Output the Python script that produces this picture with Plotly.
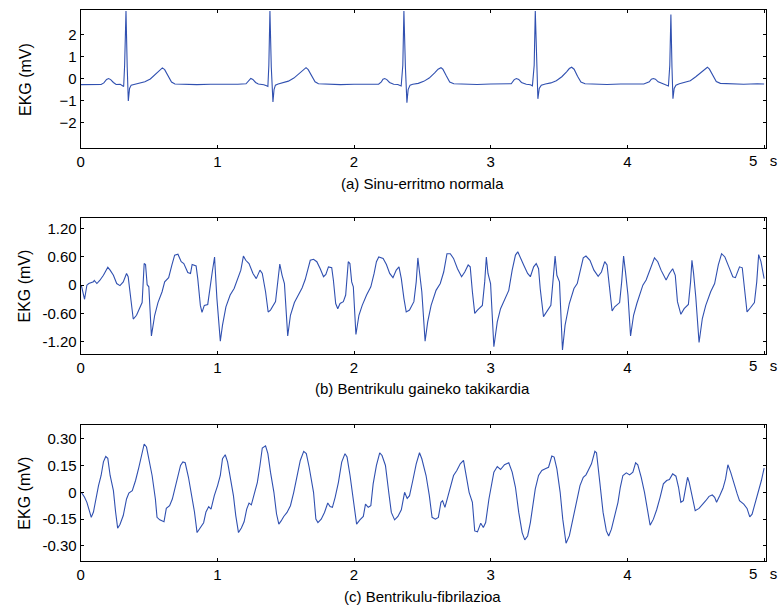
import plotly.graph_objects as go

W, H = 778, 605

# ---------------- (a) normal sinus rhythm ----------------
t_a = [0.00, 0.05, 0.10, 0.15, 0.17, 0.19, 0.205, 0.22, 0.24, 0.26, 0.29, 0.305, 0.315, 0.322, 0.332, 0.341, 0.349, 0.358, 0.37, 0.39,
       0.43, 0.47, 0.51, 0.545, 0.575, 0.598, 0.615, 0.64, 0.665, 0.69, 0.75, 0.85, 0.95, 1.05, 1.15,
       1.21, 1.23, 1.245, 1.26, 1.28, 1.30, 1.34, 1.36, 1.37, 1.377, 1.385, 1.395, 1.407, 1.415, 1.425, 1.445,
       1.48, 1.52, 1.56, 1.60, 1.63, 1.649, 1.665, 1.69, 1.715, 1.74, 1.80, 1.90, 2.00, 2.10, 2.18,
       2.20, 2.212, 2.225, 2.24, 2.26, 2.29, 2.32, 2.345, 2.357, 2.365, 2.376, 2.387, 2.396, 2.41, 2.43,
       2.47, 2.51, 2.55, 2.59, 2.615, 2.636, 2.65, 2.675, 2.70, 2.73, 2.80, 2.90, 3.00, 3.10,
       3.15, 3.172, 3.188, 3.205, 3.225, 3.26, 3.29, 3.305, 3.318, 3.326, 3.336, 3.345, 3.355, 3.37, 3.40,
       3.44, 3.48, 3.52, 3.555, 3.575, 3.592, 3.61, 3.635, 3.66, 3.69, 3.75, 3.85, 3.95, 4.05, 4.12,
       4.16, 4.175, 4.19, 4.205, 4.225, 4.26, 4.29, 4.30, 4.31, 4.318, 4.326, 4.333, 4.342, 4.355, 4.38,
       4.42, 4.46, 4.50, 4.545, 4.57, 4.585, 4.60, 4.625, 4.65, 4.68, 4.75, 4.85, 4.95, 5.00]
v_a = [-0.28, -0.27, -0.29, -0.27, -0.20, -0.04, 0.00, -0.05, -0.18, -0.27, -0.26, -0.31, -0.36, 0.6, 3.05, 0.5, -1.02, -0.45, -0.30, -0.27,
       -0.22, -0.15, -0.02, 0.18, 0.38, 0.48, 0.40, 0.10, -0.16, -0.25, -0.26, -0.28, -0.26, -0.27, -0.26,
       -0.24, -0.08, 0.00, -0.04, -0.18, -0.25, -0.28, -0.33, -0.36, 0.6, 3.05, 0.5, -1.06, -0.50, -0.30, -0.25,
       -0.20, -0.12, 0.02, 0.25, 0.42, 0.49, 0.40, 0.10, -0.15, -0.24, -0.26, -0.28, -0.26, -0.27, -0.26,
       -0.15, -0.03, 0.00, -0.05, -0.18, -0.26, -0.27, -0.34, 0.6, 3.05, 0.5, -1.10, -0.50, -0.30, -0.26,
       -0.22, -0.13, 0.02, 0.25, 0.42, 0.49, 0.42, 0.12, -0.16, -0.24, -0.26, -0.27, -0.25, -0.26,
       -0.24, -0.05, 0.00, -0.04, -0.18, -0.26, -0.28, -0.33, 0.6, 3.05, 0.5, -0.92, -0.45, -0.30, -0.25,
       -0.20, -0.10, 0.08, 0.30, 0.45, 0.51, 0.42, 0.10, -0.16, -0.24, -0.26, -0.27, -0.25, -0.26, -0.25,
       -0.15, -0.03, 0.00, -0.03, -0.15, -0.24, -0.30, -0.34, 0.6, 2.90, 0.5, -0.92, -0.45, -0.30, -0.24,
       -0.18, -0.10, 0.08, 0.30, 0.45, 0.51, 0.42, 0.12, -0.14, -0.22, -0.25, -0.26, -0.24, -0.25]

# ---------------- (b) supraventricular tachycardia ----------------
t_b = [0.005, 0.029, 0.046, 0.06, 0.094, 0.10, 0.119, 0.14, 0.167, 0.199, 0.216, 0.24, 0.264, 0.288, 0.312, 0.336, 0.348,
       0.368, 0.385, 0.409, 0.433, 0.45, 0.465, 0.475, 0.487, 0.499, 0.518, 0.542, 0.566, 0.596, 0.615, 0.644, 0.668,
       0.688, 0.712, 0.736, 0.755, 0.784, 0.804, 0.816, 0.845, 0.857, 0.876, 0.888, 0.905, 0.93, 0.963, 0.98, 0.983,
       0.997, 1.022, 1.038, 1.063, 1.094, 1.123, 1.147, 1.172, 1.191, 1.208, 1.232, 1.261, 1.285, 1.312, 1.329, 1.353,
       1.372, 1.389, 1.426, 1.445, 1.457, 1.474, 1.491, 1.515, 1.535, 1.564, 1.595, 1.62, 1.643, 1.68, 1.704, 1.728,
       1.753, 1.777, 1.794, 1.813, 1.837, 1.849, 1.866, 1.881, 1.898, 1.922, 1.939, 1.958, 1.97, 1.983, 1.995, 2.014,
       2.036, 2.06, 2.092, 2.123, 2.147, 2.164, 2.181, 2.213, 2.237, 2.261, 2.285, 2.309, 2.329, 2.346, 2.365, 2.382,
       2.406, 2.438, 2.455, 2.467, 2.479, 2.496, 2.52, 2.539, 2.564, 2.60, 2.631, 2.656, 2.68, 2.704, 2.728, 2.757,
       2.787, 2.81, 2.835, 2.85, 2.866, 2.883, 2.903, 2.939, 2.956, 2.968, 2.98, 2.999, 3.023, 3.048, 3.072, 3.108,
       3.132, 3.157, 3.181, 3.198, 3.217, 3.241, 3.27, 3.29, 3.314, 3.333, 3.35, 3.362, 3.386, 3.406, 3.44, 3.455,
       3.471, 3.484, 3.503, 3.525, 3.544, 3.575, 3.609, 3.633, 3.658, 3.677, 3.697, 3.726, 3.755, 3.786, 3.81, 3.834,
       3.851, 3.871, 3.888, 3.907, 3.943, 3.958, 3.972, 3.987, 4.004, 4.023, 4.045, 4.069, 4.113, 4.137, 4.166, 4.198,
       4.222, 4.246, 4.283, 4.307, 4.331, 4.35, 4.366, 4.391, 4.415, 4.446, 4.462, 4.472, 4.484, 4.50, 4.524, 4.548,
       4.573, 4.609, 4.638, 4.665, 4.689, 4.713, 4.742, 4.771, 4.79, 4.82, 4.84, 4.858, 4.875, 4.90, 4.929, 4.946,
       4.96, 4.977, 4.991, 5.0]
v_b = [0.0, -0.30, 0.0, 0.035, 0.07, 0.10, 0.035, 0.10, 0.21, 0.38, 0.32, 0.21, 0.035, -0.01, 0.07, 0.25, 0.18,
       -0.35, -0.72, -0.64, -0.50, -0.37, 0.46, 0.44, 0.01, -0.035, -1.08, -0.64, -0.37, -0.14, 0.07, 0.16, 0.43,
       0.64, 0.66, 0.50, 0.46, 0.27, 0.25, 0.44, 0.41, 0.14, -0.43, -0.58, -0.43, -0.41, 0.28, 0.60, 0.43,
       -0.28, -1.19, -0.85, -0.46, -0.21, -0.07, 0.11, 0.32, 0.62, 0.53, 0.46, 0.25, 0.14, 0.32, 0.25, -0.14,
       -0.57, -0.53, -0.35, 0.07, 0.45, 0.21, 0.035, -1.08, -0.64, -0.37, -0.18, -0.06, 0.12, 0.53, 0.55, 0.50,
       0.35, 0.18, 0.23, 0.39, 0.37, 0.11, -0.39, -0.50, -0.39, -0.35, -0.21, 0.50, 0.46, 0.07, -0.035, -1.05,
       -0.64, -0.43, -0.21, -0.035, 0.25, 0.50, 0.60, 0.57, 0.44, 0.25, 0.16, 0.32, 0.39, 0.14, -0.28, -0.57,
       -0.53, -0.35, 0.07, 0.58, 0.28, -0.14, -1.19, -0.78, -0.43, -0.11, 0.035, 0.28, 0.67, 0.67, 0.57, 0.35,
       0.18, 0.28, 0.43, 0.39, -0.14, -0.60, -0.53, -0.43, 0.07, 0.60, 0.25, 0.035, -1.31, -0.78, -0.50, -0.25,
       -0.11, 0.32, 0.64, 0.71, 0.60, 0.43, 0.25, 0.18, 0.39, 0.46, 0.35, -0.07, -0.67, -0.57, -0.43, 0.07,
       0.62, 0.21, 0.07, -1.38, -0.85, -0.39, -0.07, 0.035, 0.32, 0.58, 0.62, 0.53, 0.32, 0.19, 0.28, 0.50,
       0.43, -0.14, -0.55, -0.46, -0.37, 0.07, 0.62, 0.25, -0.21, -1.08, -0.64, -0.39, 0.0, 0.11, 0.35, 0.58,
       0.50, 0.32, 0.11, 0.25, 0.35, 0.21, -0.35, -0.62, -0.50, -0.41, 0.07, 0.53, 0.25, -0.25, -1.22, -0.71,
       -0.43, -0.14, 0.035, 0.43, 0.67, 0.60, 0.39, 0.18, 0.16, 0.39, 0.37, -0.14, -0.57, -0.48, -0.37, 0.07,
       0.65, 0.50, 0.28, 0.14]

# ---------------- (c) ventricular fibrillation ----------------
t_c = [0.005, 0.029, 0.046, 0.063, 0.078, 0.094, 0.111, 0.131, 0.15, 0.167, 0.184, 0.199, 0.216, 0.24, 0.256, 0.271,
       0.288, 0.312, 0.336, 0.353, 0.378, 0.402, 0.426, 0.446, 0.465, 0.482, 0.499, 0.523, 0.547, 0.559, 0.579, 0.61,
       0.627, 0.651, 0.671, 0.692, 0.712, 0.731, 0.748, 0.765, 0.789, 0.813, 0.833, 0.852, 0.876, 0.90, 0.917, 0.937,
       0.954, 0.978, 1.002, 1.022, 1.038, 1.058, 1.075, 1.094, 1.118, 1.135, 1.155, 1.176, 1.196, 1.215, 1.232, 1.249,
       1.269, 1.293, 1.312, 1.329, 1.353, 1.37, 1.389, 1.414, 1.433, 1.45, 1.467, 1.486, 1.51, 1.535, 1.559, 1.583,
       1.607, 1.632, 1.651, 1.672, 1.692, 1.704, 1.721, 1.736, 1.76, 1.784, 1.808, 1.825, 1.842, 1.862, 1.886, 1.91,
       1.934, 1.949, 1.971, 1.995, 2.019, 2.043, 2.068, 2.084, 2.104, 2.123, 2.14, 2.164, 2.188, 2.205, 2.23, 2.254,
       2.273, 2.297, 2.321, 2.346, 2.37, 2.389, 2.406, 2.43, 2.455, 2.479, 2.496, 2.527, 2.551, 2.571, 2.595, 2.617,
       2.636, 2.648, 2.665, 2.685, 2.709, 2.728, 2.752, 2.777, 2.801, 2.818, 2.842, 2.866, 2.883, 2.903, 2.927, 2.946,
       2.963, 2.987, 3.007, 3.023, 3.048, 3.072, 3.101, 3.132, 3.157, 3.181, 3.205, 3.23, 3.249, 3.27, 3.29, 3.309,
       3.326, 3.35, 3.374, 3.399, 3.423, 3.447, 3.464, 3.484, 3.508, 3.527, 3.551, 3.575, 3.60, 3.629, 3.653, 3.677,
       3.697, 3.713, 3.737, 3.762, 3.774, 3.798, 3.822, 3.846, 3.863, 3.883, 3.907, 3.931, 3.948, 3.967, 3.992, 4.016,
       4.04, 4.06, 4.076, 4.101, 4.125, 4.142, 4.166, 4.19, 4.214, 4.239, 4.263, 4.287, 4.307, 4.331, 4.355, 4.374,
       4.391, 4.409, 4.428, 4.44, 4.452, 4.472, 4.496, 4.524, 4.548, 4.573, 4.597, 4.621, 4.638, 4.652, 4.675, 4.699,
       4.718, 4.735, 4.755, 4.779, 4.803, 4.82, 4.851, 4.875, 4.895, 4.912, 4.936, 4.96, 4.98, 5.0]
v_c = [0.0, -0.028, -0.056, -0.11, -0.14, -0.11, -0.0375, 0.0375, 0.094, 0.17, 0.20, 0.19, 0.094, 0.009, -0.11, -0.20,
       -0.18, -0.13, -0.0375, -0.004, 0.009, 0.066, 0.14, 0.216, 0.27, 0.253, 0.1875, 0.094, -0.0375, -0.14, -0.154, -0.165,
       -0.09, -0.075, -0.0375, 0.028, 0.084, 0.15, 0.17, 0.165, 0.084, -0.019, -0.11, -0.225, -0.20, -0.17, -0.11, -0.08,
       -0.094, -0.019, 0.0375, 0.094, 0.1875, 0.21, 0.17, 0.094, -0.019, -0.13, -0.225, -0.20, -0.165, -0.094, -0.06, -0.07,
       -0.019, 0.056, 0.15, 0.2475, 0.26, 0.216, 0.1125, 0.0, -0.12, -0.178, -0.16, -0.135, -0.1125, -0.075, 0.0, 0.094,
       0.178, 0.229, 0.216, 0.14, 0.056, 0.0, -0.15, -0.169, -0.15, -0.1125, -0.06, -0.079, -0.084, -0.028, 0.056, 0.169,
       0.216, 0.197, 0.094, -0.056, -0.178, -0.154, -0.135, -0.066, -0.084, -0.075, 0.047, 0.15, 0.221, 0.206, 0.15, 0.0,
       -0.1125, -0.154, -0.135, -0.0975, 0.0, -0.034, -0.019, 0.066, 0.159, 0.221, 0.1875, 0.094, -0.019, -0.14, -0.15, -0.14,
       -0.056, -0.047, -0.084, -0.028, 0.0375, 0.094, 0.122, 0.159, 0.178, 0.1125, 0.0, -0.056, -0.216, -0.221, -0.1725, -0.197,
       -0.169, -0.0375, 0.047, 0.1125, 0.144, 0.1275, 0.154, 0.165, 0.1125, 0.028, -0.1125, -0.225, -0.266, -0.244, -0.169, -0.056,
       0.019, 0.094, 0.122, 0.131, 0.14, 0.2025, 0.197, 0.131, 0.0, -0.15, -0.285, -0.244, -0.15, -0.0375, 0.0375, 0.084,
       0.0975, 0.122, 0.159, 0.229, 0.221, 0.056, -0.1125, -0.216, -0.244, -0.206, -0.13, -0.056, 0.028, 0.094, 0.109, 0.0975,
       0.1125, 0.165, 0.154, 0.084, 0.0, -0.084, -0.184, -0.15, -0.0975, -0.028, 0.047, 0.066, 0.071, 0.103, 0.09, 0.028,
       -0.056, -0.047, 0.028, 0.084, 0.056, -0.019, -0.103, -0.09, -0.071, -0.047, -0.0225, -0.015, -0.028, -0.056, -0.019, 0.0225,
       0.075, 0.154, 0.1125, 0.047, -0.009, -0.047, -0.066, -0.09, -0.137, -0.122, -0.056, 0.009, 0.066, 0.135]

x_ticks = [0, 1, 2, 3, 4, 5]
x_text = ["0", "1", "2", "3", "4", ""]      # the last label "5  s" is written as text below
last_label = "5\u00a0\u00a0\u00a0s"
y_ticks_a = [-2, -1, 0, 1, 2]
y_ticks_b = [-1.2, -0.6, 0, 0.6, 1.2]
y_text_b = ["-1.20", "-0.60", "0", "0.60", "1.20"]
y_ticks_c = [-0.30, -0.15, 0, 0.15, 0.30]
y_text_c = ["-0.30", "-0.15", "0", "0.15", "0.30"]
titles = ["(a) Sinu-erritmo normala", "(b) Bentrikulu gaineko takikardia", "(c) Bentrikulu-fibrilazioa"]

LINE = "#3050b0"
FONT = "Liberation Sans, Arial, Helvetica, sans-serif"
FS = 15

# panel boxes in pixels (top, bottom)
left_px, right_px = 77, 765.7
boxes = [(10, 148.3), (217.5, 353.8), (424.5, 561)]
ranges = [[-3.16, 3.1], [-1.46, 1.44], [-0.384, 0.379]]

fig = go.Figure()
series = [(t_a, v_a), (t_b, v_b), (t_c, v_c)]
for i, (t, v) in enumerate(series):
    sfx = "" if i == 0 else str(i + 1)
    fig.add_trace(go.Scatter(x=t, y=v, mode="lines", line=dict(color=LINE, width=1.1),
                             xaxis="x" + sfx, yaxis="y" + sfx, showlegend=False, hoverinfo="skip"))

common_axis = dict(showline=True, linecolor="black", linewidth=1, mirror="ticks", ticks="inside",
                   ticklen=3, tickcolor="black", showgrid=False, zeroline=False,
                   tickfont=dict(family=FONT, size=FS, color="black"))

layout = dict(width=W, height=H, autosize=False, margin=dict(l=0, r=0, t=0, b=0),
              paper_bgcolor="white", plot_bgcolor="white", font=dict(family=FONT, size=FS, color="black"))
annotations = []
for i in range(3):
    sfx = "" if i == 0 else str(i + 1)
    top, bot = boxes[i]
    ydom = [1 - bot / H, 1 - top / H]
    xa = dict(common_axis, domain=[left_px / W, right_px / W], range=[0, 5.012], tickvals=x_ticks,
              ticktext=x_text, anchor="y" + sfx)
    if i == 0:
        ya = dict(common_axis, domain=ydom, range=ranges[i], tickvals=y_ticks_a, anchor="x" + sfx)
    elif i == 1:
        ya = dict(common_axis, domain=ydom, range=ranges[i], tickvals=y_ticks_b, ticktext=y_text_b, anchor="x" + sfx)
    else:
        ya = dict(common_axis, domain=ydom, range=ranges[i], tickvals=y_ticks_c, ticktext=y_text_c, anchor="x" + sfx)
    layout["xaxis" + sfx] = xa
    layout["yaxis" + sfx] = ya
    mid = (top + bot) / 2
    annotations.append(dict(text="EKG (mV)", textangle=-90, x=21 / W, y=1 - mid / H, xref="paper", yref="paper",
                            showarrow=False, font=dict(family=FONT, size=16, color="black"),
                            xanchor="center", yanchor="middle"))
    annotations.append(dict(text=last_label, x=777 / W, y=1 - (bot + 12) / H, xref="paper", yref="paper",
                            showarrow=False, font=dict(family=FONT, size=FS, color="black"),
                            xanchor="right", yanchor="middle", borderpad=0, borderwidth=0))
    annotations.append(dict(text=titles[i], x=421 / W, y=1 - (bot + 35) / H, xref="paper", yref="paper",
                            showarrow=False, font=dict(family=FONT, size=FS, color="black"),
                            xanchor="center", yanchor="middle"))
layout["annotations"] = annotations
fig.update_layout(**layout)
fig.write_html("out.html", config={"displayModeBar": False},
               post_script="document.body.style.margin='0px';document.body.style.overflow='hidden';"
                           "document.documentElement.style.overflow='hidden';")
